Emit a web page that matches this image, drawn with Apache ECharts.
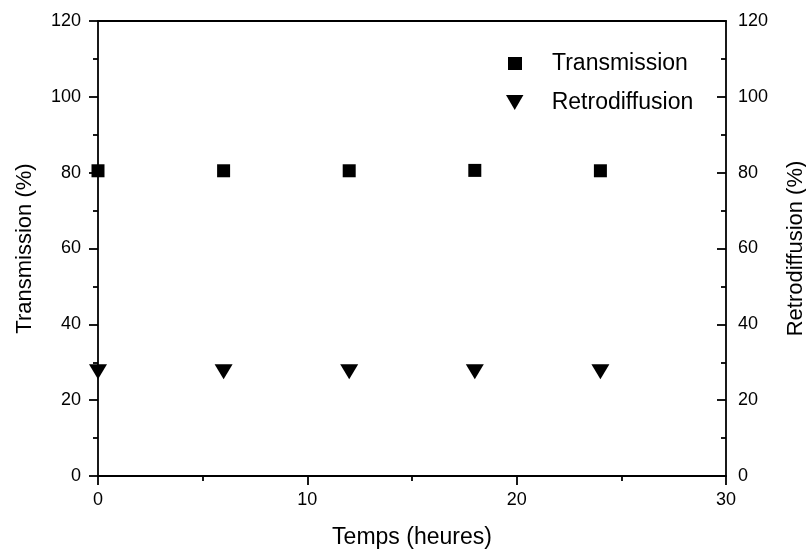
<!DOCTYPE html>
<html><head><meta charset="utf-8">
<script src="https://cdn.jsdelivr.net/npm/echarts@6/dist/echarts.min.js"></script>
<style>html,body{margin:0;padding:0;background:#fff}#c{width:806px;height:554px}</style>
</head><body><div id="c"></div>
<script>
const hours = [0, 6, 12, 18, 24];
const transmission = [80.5, 80.5, 80.5, 80.6, 80.5];
const retrodiffusion = [27.5, 27.5, 27.5, 27.5, 27.5];
const xTicks = [0, 10, 20, 30];
const yTicks = [0, 20, 40, 60, 80, 100, 120];

const FONT = 'Arial, "Liberation Sans", sans-serif';
const downTri = 'path://M0,0 L10,0 L5,8.6 Z';
const chart = echarts.init(document.getElementById('c'), null, {renderer: 'canvas'});
const lineStyle = {color: '#000', width: 1.8};
const legendText = {fontFamily: FONT, fontSize: 23, color: '#000'};
chart.setOption({
  animation: false,
  backgroundColor: '#fff',
  grid: {left: 98, right: 80, top: 21, bottom: 78, outerBoundsMode: 'none', containLabel: false},
  legend: [{
    orient: 'vertical', left: 508, top: 52, padding: 0, itemWidth: 14, itemHeight: 13,
    textStyle: Object.assign({padding: [0, 0, 0, 25]}, legendText),
    data: [{name: 'Transmission', icon: 'rect'}]
  }, {
    orient: 'vertical', left: 506, top: 91, padding: 0, itemWidth: 18, itemHeight: 15,
    textStyle: Object.assign({padding: [0, 0, 0, 23]}, legendText),
    data: [{name: 'Retrodiffusion', icon: downTri}]
  }],
  xAxis: [{
    type: 'value', min: xTicks[0], max: xTicks[xTicks.length - 1], interval: 10, position: 'bottom',
    name: 'Temps (heures)', nameLocation: 'middle', nameGap: 50,
    nameTextStyle: {fontFamily: FONT, fontSize: 23, color: '#000'},
    axisLine: {show: true, onZero: false, lineStyle: lineStyle},
    axisTick: {show: true, length: 9, lineStyle: lineStyle},
    minorTick: {show: true, splitNumber: 2, length: 5, lineStyle: lineStyle},
    axisLabel: {fontFamily: FONT, fontSize: 18, color: '#000', margin: 15},
    splitLine: {show: false}
  }, {
    type: 'value', min: 0, max: 30, position: 'top',
    axisLine: {show: true, onZero: false, lineStyle: lineStyle},
    axisTick: {show: false}, axisLabel: {show: false}, splitLine: {show: false}
  }],
  yAxis: [{
    type: 'value', min: yTicks[0], max: yTicks[yTicks.length - 1], interval: 20, position: 'left',
    name: 'Transmission (%)', nameLocation: 'middle', nameGap: 62,
    nameTextStyle: {fontFamily: FONT, fontSize: 22, color: '#000'},
    axisLine: {show: true, onZero: false, lineStyle: lineStyle},
    axisTick: {show: true, length: 9, lineStyle: lineStyle},
    minorTick: {show: true, splitNumber: 2, length: 5, lineStyle: lineStyle},
    axisLabel: {fontFamily: FONT, fontSize: 18, color: '#000', margin: 17},
    splitLine: {show: false}
  }, {
    type: 'value', min: yTicks[0], max: yTicks[yTicks.length - 1], interval: 20, position: 'right',
    name: 'Retrodiffusion (%)', nameLocation: 'middle', nameGap: 59, nameRotate: 90,
    nameTextStyle: {fontFamily: FONT, fontSize: 22, color: '#000'},
    axisLine: {show: true, onZero: false, lineStyle: lineStyle},
    axisTick: {show: true, inside: true, length: 9, lineStyle: lineStyle},
    minorTick: {show: true, splitNumber: 2, length: 5, lineStyle: lineStyle},
    axisLabel: {fontFamily: FONT, fontSize: 18, color: '#000', margin: 12},
    splitLine: {show: false}
  }],
  series: [{
    name: 'Transmission', type: 'scatter', xAxisIndex: 0, yAxisIndex: 0,
    symbol: 'rect', symbolSize: 13, clip: false,
    itemStyle: {color: '#000', opacity: 1},
    data: hours.map((h, i) => [h, transmission[i]])
  }, {
    name: 'Retrodiffusion', type: 'scatter', xAxisIndex: 0, yAxisIndex: 1,
    symbol: downTri, symbolSize: [18, 15], clip: false,
    itemStyle: {color: '#000', opacity: 1},
    data: hours.map((h, i) => [h, retrodiffusion[i]])
  }]
});
</script></body></html>
